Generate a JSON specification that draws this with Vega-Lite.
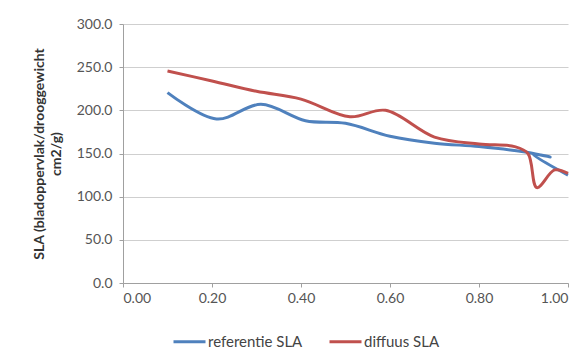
{
  "$schema": "https://vega.github.io/schema/vega-lite/v6.json",
  "width": 445,
  "height": 259,
  "autosize": {"type": "none"},
  "padding": {"left": 123, "top": 24, "right": 15, "bottom": 81},
  "background": "white",
  "config": {
    "view": {"stroke": null},
    "font": "Lato"
  },
  "data": {
    "values": [
      {"s": "referentie SLA", "i": 0, "x": 0.10, "y": 220.5},
      {"s": "referentie SLA", "i": 1, "x": 0.21, "y": 190},
      {"s": "referentie SLA", "i": 2, "x": 0.31, "y": 207},
      {"s": "referentie SLA", "i": 3, "x": 0.41, "y": 188},
      {"s": "referentie SLA", "i": 4, "x": 0.50, "y": 185},
      {"s": "referentie SLA", "i": 5, "x": 0.60, "y": 170},
      {"s": "referentie SLA", "i": 6, "x": 0.70, "y": 162},
      {"s": "referentie SLA", "i": 7, "x": 0.80, "y": 158},
      {"s": "referentie SLA", "i": 8, "x": 0.90, "y": 152},
      {"s": "referentie SLA", "i": 9, "x": 0.96, "y": 146},
      {"s": "referentie SLA", "i": 10, "x": 0.92, "y": 149.5},
      {"s": "referentie SLA", "i": 11, "x": 1.00, "y": 125},
      {"s": "diffuus SLA", "i": 0, "x": 0.10, "y": 245.5},
      {"s": "diffuus SLA", "i": 1, "x": 0.20, "y": 234},
      {"s": "diffuus SLA", "i": 2, "x": 0.30, "y": 222},
      {"s": "diffuus SLA", "i": 3, "x": 0.40, "y": 213},
      {"s": "diffuus SLA", "i": 4, "x": 0.51, "y": 192.5},
      {"s": "diffuus SLA", "i": 5, "x": 0.59, "y": 200},
      {"s": "diffuus SLA", "i": 6, "x": 0.70, "y": 169},
      {"s": "diffuus SLA", "i": 7, "x": 0.80, "y": 161},
      {"s": "diffuus SLA", "i": 8, "x": 0.88, "y": 158},
      {"s": "diffuus SLA", "i": 9, "x": 0.91, "y": 150},
      {"s": "diffuus SLA", "i": 10, "x": 0.93, "y": 110.5},
      {"s": "diffuus SLA", "i": 11, "x": 0.97, "y": 131},
      {"s": "diffuus SLA", "i": 12, "x": 1.00, "y": 127}
    ]
  },
  "mark": {"type": "line", "interpolate": "catmull-rom", "strokeWidth": 3},
  "encoding": {
    "x": {
      "field": "x", "type": "quantitative",
      "scale": {"domain": [0, 1], "nice": false},
      "axis": {
        "title": null, "values": [0, 0.2, 0.4, 0.6, 0.8, 1.0], "format": ".2f",
        "grid": false, "domain": true, "domainColor": "#a0a0a0", "ticks": true, "tickColor": "#a0a0a0",
        "tickSize": 4, "labelPadding": 4, "labelFontSize": 14, "labelColor": "#555555",
        "labelFont": "Lato"
      }
    },
    "y": {
      "field": "y", "type": "quantitative",
      "scale": {"domain": [0, 300], "nice": false},
      "axis": {
        "title": ["SLA (bladoppervlak/drooggewicht", "cm2/g)"],
        "titleFontWeight": "bold", "titleFontSize": 14, "titleColor": "#333333",
        "titleLineHeight": 17, "titlePadding": 13, "titleFont": "Lato",
        "values": [0, 50, 100, 150, 200, 250, 300], "format": ".1f",
        "grid": true, "gridColor": "#cfcfcf", "gridWidth": 1,
        "domain": true, "domainColor": "#a0a0a0", "ticks": true, "tickColor": "#a0a0a0",
        "tickSize": 4, "labelPadding": 7, "labelFontSize": 14, "labelColor": "#555555",
        "labelFont": "Lato"
      }
    },
    "color": {
      "field": "s", "type": "nominal",
      "scale": {"domain": ["referentie SLA", "diffuus SLA"], "range": ["#4F81BD", "#C0504D"]},
      "legend": {
        "title": null, "orient": "none", "direction": "horizontal",
        "legendX": 49, "legendY": 300,
        "symbolType": "stroke", "symbolSize": 1024, "symbolStrokeWidth": 3,
        "labelFontSize": 15, "labelColor": "#444444", "labelOffset": 1, "columnPadding": 20,
        "labelFont": "Lato"
      }
    },
    "detail": {"field": "s"},
    "order": {"field": "i", "type": "quantitative"}
  }
}
